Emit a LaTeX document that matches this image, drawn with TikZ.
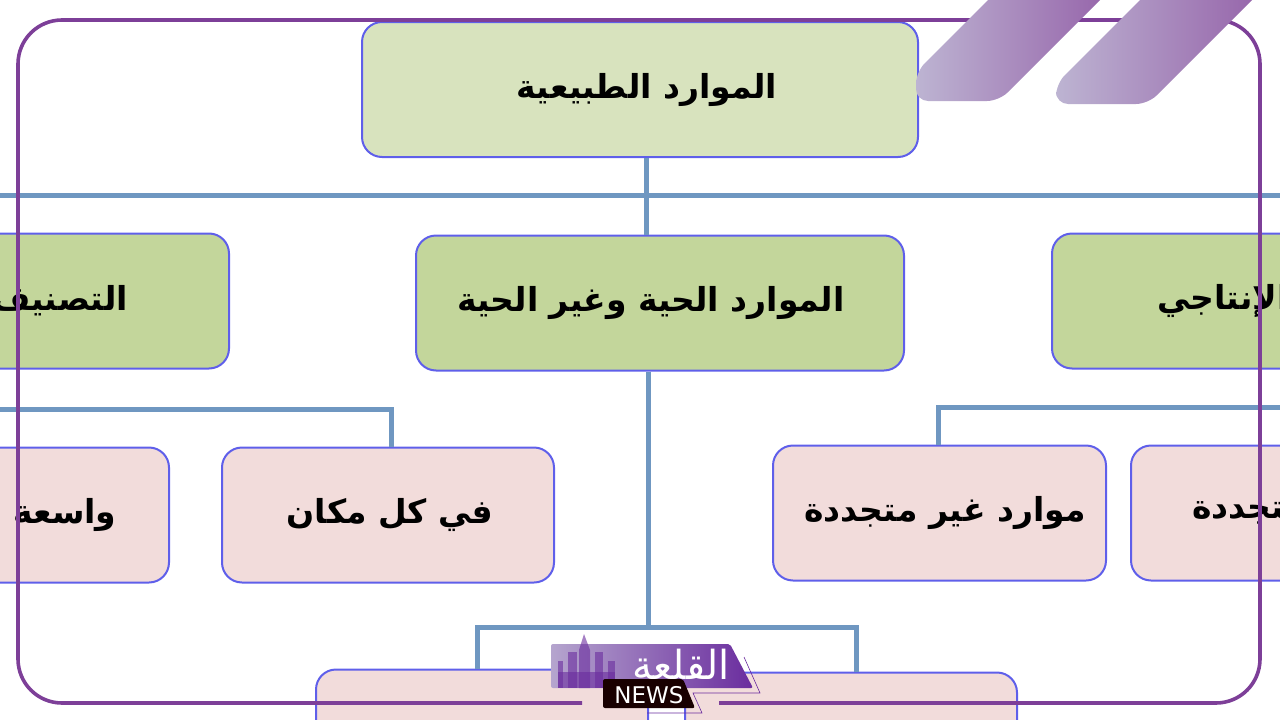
\documentclass[tikz,border=0pt]{standalone}
\usepackage{fontspec}
\setmainfont{DejaVu Sans}
\newfontfamily\arabicfont[Script=Arabic]{DejaVu Sans}
\TeXXeTstate=1
\newcommand{\ar}[1]{{\arabicfont\beginR #1\endR}}
\definecolor{edge}{HTML}{5F5FEA}
\definecolor{wire}{HTML}{6F97C1}
\definecolor{frame}{HTML}{7D3F98}
\definecolor{palegreen}{HTML}{D8E3BE}
\definecolor{midgreen}{HTML}{C3D69B}
\definecolor{pink}{HTML}{F2DCDB}
\definecolor{slashl}{HTML}{BDB4D2}
\definecolor{slashr}{HTML}{9460A8}
\definecolor{logol}{HTML}{B5A5CE}
\definecolor{logor}{HTML}{6A2C9E}
\tikzset{
  box/.style={draw=edge, line width=2pt, rounded corners=20pt, inner sep=0pt, minimum height=135pt, text=black, font=\fontsize{33}{36}\selectfont\bfseries},
  topbox/.style={box, fill=palegreen},
  greenbox/.style={box, fill=midgreen},
  pinkbox/.style={box, fill=pink},
  link/.style={draw=wire, line width=5pt},
  rim/.style={draw=frame, line width=3.6pt},
  slash/.style={left color=slashl, right color=slashr, rounded corners=12pt},
  trim/.style={draw=logor, line width=0.6pt},
  tower/.style={fill=logor, fill opacity=0.6},
}
\begin{document}
\begin{tikzpicture}[x=1pt,y=-1pt]
  \useasboundingbox (0,0) rectangle (1280,720);
  \clip (0,0) rectangle (1280,720);
  % boxes
  \node[topbox,minimum width=556pt] (top) at (640,89.5) {\hspace{14pt}\ar{الموارد الطبيعية}};
  \node[greenbox,minimum width=488pt] (mid) at (660,303) {\ar{الموارد الحية وغير الحية}\hspace{18pt}\null};
  \node[greenbox,minimum width=338pt] (kinds) at (60,301) {\ar{التصنيف}};
  \node[greenbox,minimum width=342pt] (prod) at (1223,301) {\ar{الإنتاجي}};
  \node[pinkbox,minimum width=332pt] (every) at (388,515) {\hspace{4pt}\ar{في كل مكان}};
  \node[pinkbox,minimum width=208pt] (wide) at (65,515) {\ar{واسعة}};
  \node[pinkbox,minimum width=333pt] (nonrenew) at (939.5,513) {\hspace{11pt}\ar{موارد غير متجددة}};
  \node[pinkbox,minimum width=236pt] (renew) at (1249,513) {\ar{متجددة}};
  \node[pinkbox,minimum width=332pt] (lowl) at (482,737) {};
  \node[pinkbox,minimum width=332pt] (lowr) at (851,740) {};
  % connectors
  \coordinate (trunk) at (646,195);
  \coordinate (busl) at (0,195);
  \coordinate (busr) at (1280,195);
  \coordinate (stem) at (648,627);
  \coordinate (stema) at (477,627);
  \coordinate (stemb) at (856,627);
  \coordinate (leftbar) at (391,409);
  \coordinate (leftend) at (0,409);
  \coordinate (rightbar) at (938,407);
  \coordinate (rightend) at (1280,407);
  \draw[link] (top.south -| trunk) -- (trunk) -- (mid.north -| trunk);
  \draw[link] (busl) -- (busr);
  \draw[link] (mid.south -| stem) -- (stem);
  \draw[link] (lowl.north -| stema) -- (stema) -- (stemb) -- (lowr.north -| stemb);
  \draw[link] (every.north -| leftbar) -- (leftbar) -- (leftend);
  \draw[link] (nonrenew.north -| rightbar) -- (rightbar) -- (rightend);
  % frame
  \draw[rim,rounded corners=44pt] (582,703) -- (18,703) -- (18,20) -- (1260,20) -- (1260,703) -- (719,703);
  % slashes
  \shade[slash] (1008,-20) -- (916,72) -- (916,101) -- (999,101) -- (1120,-20) -- cycle;
  \shade[slash] (1160,-20) -- (1056,84) -- (1056,104) -- (1148,104) -- (1272,-20) -- cycle;
  % logo
  \shade[left color=logol, right color=logor, rounded corners=2pt] (551,644) -- (730,644) -- (753,688) -- (551,688) -- cycle;
  \fill[tower] (579,650) -- (584,634) -- (590,650) -- (590,688) -- (579,688) -- cycle;
  \foreach \xa/\xb/\ya in {558/563/661,568/577/652,595/603/652,608/615/661}{
    \fill[tower] (\xa,\ya) rectangle (\xb,688);
  }
  \fill[tower] (558,672) rectangle (615,688);
  \node[text=white, font=\fontsize{40}{42}\selectfont] (brand) at (681,664) {\ar{القلعة}};
  \draw[trim] (744,657) -- (760,693) -- (693,693) -- (702,713) -- (647,713);
  \fill[black!90!red, rounded corners=2pt] (603,679) -- (683,679) -- (695,708) -- (603,708) -- cycle;
  \node[text=white, font=\fontsize{23}{25}\selectfont] (news) at (649,695) {NEWS};
\end{tikzpicture}
\end{document}
